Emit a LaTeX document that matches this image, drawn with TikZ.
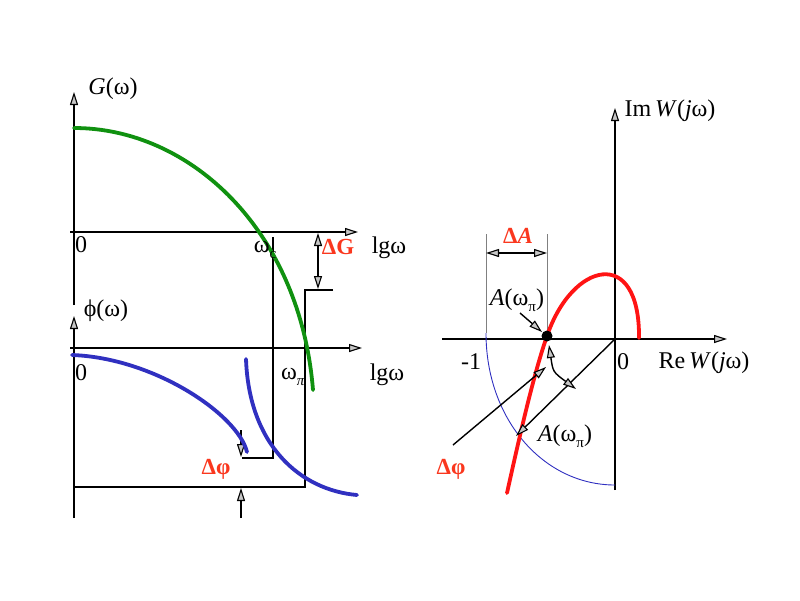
\documentclass[tikz,border=0pt]{standalone}
\usepackage{fontspec}
\setmainfont{Liberation Serif}
\usetikzlibrary{arrows.meta}
\definecolor{grn}{RGB}{16,145,16}
\definecolor{blu}{RGB}{48,48,192}
\definecolor{rd}{RGB}{255,20,20}
\definecolor{rdtxt}{RGB}{250,55,30}
\newcommand{\mysb}[1]{\raisebox{-0.5ex}{\fontsize{15}{15}\selectfont #1}}
\tikzset{
  ax/.style={line width=1.6pt, black},
  tri/.style={-{Triangle[length=13pt,width=8pt,fill=gray!45,line width=1.1pt]}},
  dtri/.style={{Triangle[length=13pt,width=8pt,fill=gray!45,line width=1.1pt]}-{Triangle[length=13pt,width=8pt,fill=gray!45,line width=1.1pt]}},
  thin line/.style={line width=1.4pt, black},
  dim/.style={line width=0.8pt, gray},
  curve/.style={line width=3.8pt, line cap=round},
  lbl/.style={inner sep=0pt},
  redlbl/.style={inner sep=0pt, text=rdtxt, font=\fontsize{23}{27}\selectfont\bfseries},
}
\begin{document}
\begin{tikzpicture}[x=1pt,y=-1pt, font=\fontsize{24}{28}\selectfont]
\useasboundingbox (0,0) rectangle (800,600);

% ---------------- left: G(omega) and phi(omega) ----------------
\coordinate (Gb) at (74,305); \coordinate (Gt) at (74,92);
\coordinate (Hl) at (70,232); \coordinate (Hr) at (358,232);
\coordinate (Pb) at (74,518); \coordinate (Pt) at (74,316);
\coordinate (Ql) at (70,348); \coordinate (Qr) at (362,348);
\coordinate (c1) at (273,237); \coordinate (c2) at (273,458); \coordinate (c3) at (242,458);
\coordinate (p1) at (333,290); \coordinate (p2) at (305,290); \coordinate (p3) at (305,487); \coordinate (p4) at (74,487);
\coordinate (dGa) at (318,289); \coordinate (dGb) at (318,233);
\coordinate (f1) at (241,430); \coordinate (f2) at (241,457);
\coordinate (f3) at (241,518); \coordinate (f4) at (241,488);

\draw[ax,tri] (Gb) -- (Gt);
\draw[ax,tri] (Hl) -- (Hr);
\draw[ax,tri] (Pb) -- (Pt);
\draw[ax,tri] (Ql) -- (Qr);

\draw[thin line] (c1) -- (c2) -- (c3);
\draw[thin line] (p1) -- (p2) -- (p3) -- (p4);
\draw[thin line,dtri] (dGb) -- (dGa);
\draw[thin line,tri] (f1) -- (f2);
\draw[thin line,tri] (f3) -- (f4);

\draw[curve,grn] (74,128) .. controls (190,128) and (300,230) .. (313,390);
\draw[curve,blu] (72,355) .. controls (155,358) and (238,415) .. (247,452);
\draw[curve,blu] (246,359) .. controls (249,445) and (300,490) .. (357,495);

\node[lbl] (lG) at (113,89) {\textit{G}(ω)};
\node[lbl] (lphi) at (106,311) {ϕ(ω)};
\node[lbl] (l0a) at (81,245) {0};
\node[lbl] (l0b) at (81,373) {0};
\node[lbl] (lwc) at (265,250) {ω\mysb{c}};
\node[lbl] (lwp) at (293,377) {ω\mysb{\textit{π}}};
\node[redlbl] (ldG) at (338,247) {ΔG};
\node[lbl] (llg1) at (389,248) {lgω};
\node[lbl] (llg2) at (387,375) {lgω};
\node[redlbl] (ldf1) at (216,469) {Δφ};

% ---------------- right: Nyquist plot ----------------
\coordinate (O) at (615,339);
\coordinate (Ib) at (615,490); \coordinate (It) at (615,108);
\coordinate (Rl) at (442,339); \coordinate (Rr) at (727,339);
\coordinate (d1a) at (486,234); \coordinate (d1b) at (486,333);
\coordinate (d2a) at (547,234); \coordinate (d2b) at (547,339);
\coordinate (d3a) at (486,253); \coordinate (d3b) at (547,253);
\coordinate (m1) at (453,445); \coordinate (m2) at (546,367);
\coordinate (v2) at (516,436);
\coordinate (a1) at (549,345); \coordinate (a2) at (576,389);
\coordinate (s1) at (520,313); \coordinate (s2) at (542,332);
\coordinate (Dot) at (547,336);

\draw[ax,tri] (Ib) -- (It);
\draw[ax,tri] (Rl) -- (Rr);
\draw[dim] (d1a) -- (d1b);
\draw[dim] (d2a) -- (d2b);
\draw[thin line,dtri] (d3a) -- (d3b);

\draw[line width=0.9pt, blu] (486,333) .. controls (486,420) and (544,485) .. (615,485);

\draw[curve,rd] (507,493) .. controls (522,425) and (535,370) .. (Dot)
   .. controls (572,262) and (640,245) .. (639,338);

\draw[thin line,tri] (m1) -- (m2);
\draw[thin line,tri] (O) -- (v2);
\draw[thin line,dtri] (a1) .. controls (553,372) .. (a2);
\draw[thin line,tri] (s1) -- (s2);
\fill[black] (Dot) circle[radius=5.5];

\node[lbl] (lIm) at (670,111) {Im\,\textit{W}(\textit{j}ω)};
\node[lbl] (lRe) at (704,363) {Re\,\textit{W}(\textit{j}ω)};
\node[lbl] (lm1) at (471,362) {-1};
\node[lbl] (l0c) at (623,362) {0};
\node[redlbl] (ldA) at (518,236) {Δ\textit{A}};
\node[lbl] (lA1) at (517,300) {\textit{A}(ω\mysb{π})};
\node[lbl] (lA2) at (565,436) {\textit{A}(ω\mysb{π})};
\node[redlbl] (ldf2) at (451,469) {Δφ};
\end{tikzpicture}
\end{document}
